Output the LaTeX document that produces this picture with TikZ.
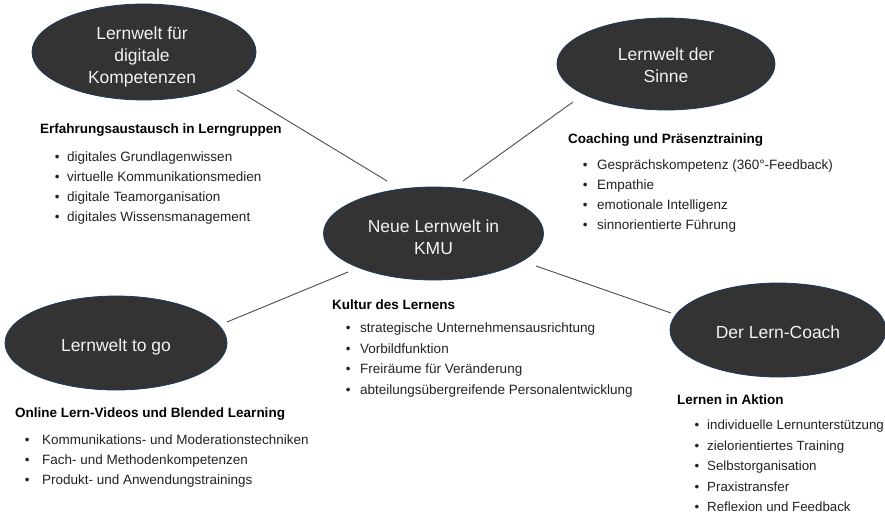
\documentclass[tikz,border=0pt]{standalone}
\usepackage{fontspec}
\setmainfont{Liberation Sans}
\usetikzlibrary{shapes.geometric}
\definecolor{ellfill}{HTML}{333333}
\definecolor{ellline}{HTML}{1F3864}
\definecolor{txt}{HTML}{222222}
\definecolor{etxt}{HTML}{F2F2F2}
\tikzset{
  world/.style={ellipse, fill=ellfill, draw=ellline, line width=0.8pt, inner sep=0pt},
  worldtext/.style={text=etxt, align=center, inner sep=0pt, font=\fontsize{17.5}{22}\selectfont},
  head/.style={anchor=base west, inner sep=0pt, font=\fontsize{13.5}{16}\selectfont\bfseries, text=black},
  item/.style={anchor=base west, inner sep=0pt, font=\fontsize{13.5}{16}\selectfont, text=txt},
  smallitem/.style={item, font=\fontsize{13.3}{16}\selectfont},
  link/.style={draw=black!70, line width=0.9pt},
}
\newcommand\bul[1]{\llap{•\hspace{#1}}}
\begin{document}
\begin{tikzpicture}[x=1pt,y=-1pt]
\useasboundingbox (0,0) rectangle (885,515);
\clip (0,0) rectangle (885,515);

% connectors
\coordinate (l1a) at (237,90);  \coordinate (l1b) at (387,181);
\coordinate (l2a) at (573,102); \coordinate (l2b) at (463,181);
\coordinate (l3a) at (348,272); \coordinate (l3b) at (227,322);
\coordinate (l4a) at (536,266); \coordinate (l4b) at (671,313);
\draw[link] (l1a) -- (l1b);
\draw[link] (l2a) -- (l2b);
\draw[link] (l3a) -- (l3b);
\draw[link] (l4a) -- (l4b);

% ellipses
\node[world, minimum width=224pt, minimum height=96pt] (digital) at (144,52) {};
\node[worldtext] (digitalt) at (142,57) {Lernwelt für\\digitale\\Kompetenzen};
\node[world, minimum width=218pt, minimum height=92pt] (sinne) at (666,64) {};
\node[worldtext] (sinnet) at (666,65.5) {Lernwelt der\\Sinne};
\node[world, minimum width=220pt, minimum height=93pt] (kmu) at (433.5,233.5) {};
\node[worldtext] (kmut) at (433.5,237) {Neue Lernwelt in\\KMU};
\node[world, minimum width=222pt, minimum height=94pt] (togo) at (116,343) {};
\node[worldtext] (togot) at (116,347) {Lernwelt to go};
\node[world, minimum width=216pt, minimum height=94pt] (coach) at (778,330) {};
\node[worldtext] (coacht) at (778,332) {Der Lern-Coach};

% block 1
\node[head] (h1) at (40,133) {Erfahrungsaustausch in Lerngruppen};
\node[item] (a1) at (67,161.5) {\bul{7.7pt}digitales Grundlagenwissen};
\node[item] (a2) at (67,181.5) {\bul{7.7pt}virtuelle Kommunikationsmedien};
\node[item] (a3) at (67,201.5) {\bul{7.7pt}digitale Teamorganisation};
\node[item] (a4) at (67,221.5) {\bul{7.7pt}digitales Wissensmanagement};

% block 2
\node[head] (h2) at (568,143) {Coaching und Präsenztraining};
\node[item] (b1) at (597,169.5) {\bul{9.7pt}Gesprächskompetenz (360°-Feedback)};
\node[item] (b2) at (597,189.5) {\bul{9.7pt}Empathie};
\node[item] (b3) at (597,209.5) {\bul{9.7pt}emotionale Intelligenz};
\node[item] (b4) at (597,229.5) {\bul{9.7pt}sinnorientierte Führung};

% block center
\node[head] (h3) at (332,309.5) {Kultur des Lernens};
\node[item] (c1) at (360,332.5) {\bul{9.7pt}strategische Unternehmensausrichtung};
\node[item] (c2) at (360,353) {\bul{9.7pt}Vorbildfunktion};
\node[item] (c3) at (360,373.5) {\bul{9.7pt}Freiräume für Veränderung};
\node[item] (c4) at (360,394) {\bul{9.7pt}abteilungsübergreifende Personalentwicklung};

% block bottom left
\node[head] (h4) at (15,417.5) {Online Lern-Videos und Blended Learning};
\node[item] (d1) at (42,444.5) {\bul{12.7pt}Kommunikations- und Moderationstechniken};
\node[item] (d2) at (42,464.5) {\bul{12.7pt}Fach- und Methodenkompetenzen};
\node[item] (d3) at (42,484.5) {\bul{12.7pt}Produkt- und Anwendungstrainings};

% block bottom right
\node[head] (h5) at (677,404.5) {Lernen in Aktion};
\node[smallitem] (e1) at (707,429.5) {\bul{8pt}individuelle Lernunterstützung};
\node[smallitem] (e2) at (707,450) {\bul{8pt}zielorientiertes Training};
\node[smallitem] (e3) at (707,470.5) {\bul{8pt}Selbstorganisation};
\node[smallitem] (e4) at (707,491) {\bul{8pt}Praxistransfer};
\node[smallitem] (e5) at (707,511) {\bul{8pt}Reflexion und Feedback};
\end{tikzpicture}
\end{document}
